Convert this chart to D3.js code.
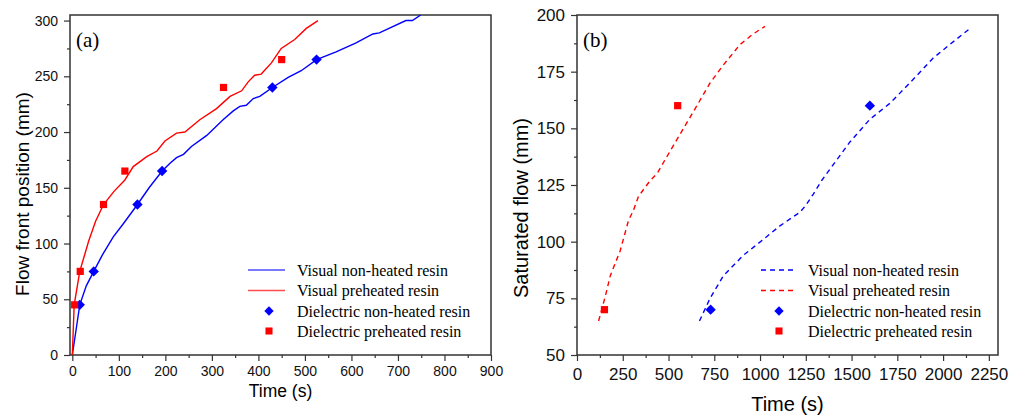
<!DOCTYPE html>
<html>
<head>
<meta charset="utf-8">
<script src="https://cdn.jsdelivr.net/npm/d3@7"></script>
<style>
  body { margin: 0; background: #fff; }
  svg { display: block; }
  .tick text { fill: #111; }
</style>
</head>
<body>
<div id="chart"></div>
<script>
// ---- panel (a): flow front position vs time ----
const visualNonHeatedA = [[0,0],[16,45],[30,62],[46,75],[65,90],[88,106],[110,118],[140,135],[165,150],[193,165],[210,172],[224,177],[239,180],[256,187],[289,197],[324,211],[346,219],[360,223],[374,224],[389,230],[403,232],[430,240],[464,249],[492,255],[525,265],[567,272],[610,280],[646,288],[660,289],[717,300],[731,300],[749,305]];
const visualPreheatedA = [[0,0],[4,45],[16,75],[35,102],[50,120],[67,135],[90,147],[113,157],[131,169],[160,178],[182,183],[199,192],[224,199],[242,200],[274,211],[310,221],[339,232],[364,237],[378,245],[392,251],[406,252],[428,262],[449,275],[478,283],[503,293],[528,300]];
const dielectricNonHeatedA = [[16,45],[46,75],[140,135],[193,165],[430,240],[525,265]];
const dielectricPreheatedA = [[5,45],[17,75],[67,135],[113,165],[325,240],[450,265]];
const xTicksA = d3.range(0, 901, 100);
const yTicksA = d3.range(0, 301, 50);

// ---- panel (b): saturated flow vs time ----
const visualNonHeatedB = [[669,65],[727,75],[800,85],[909,94],[1018,101],[1109,107],[1218,113],[1250,116],[1291,121],[1337,127],[1382,132],[1491,144],[1600,154],[1709,161],[1818,170],[1946,181],[2037,187],[2146,194]];
const visualPreheatedB = [[118,65],[155,76],[182,85],[236,96],[280,109],[309,114],[336,120],[400,127],[437,130],[509,140],[582,150],[655,160],[727,170],[800,178],[891,187],[960,191.5],[1027,195]];
const dielectricNonHeatedB = [[730,70],[1600,160]];
const dielectricPreheatedB = [[150,70],[550,160]];
const xTicksB = d3.range(0, 2251, 250);
const yTicksB = d3.range(50, 201, 25);

const legendLabels = ["Visual non-heated resin", "Visual preheated resin", "Dielectric non-heated resin", "Dielectric preheated resin"];

const BLUE = "#0000ff", RED = "#ff0000", AXIS = "#333";

const svg = d3.select("#chart").append("svg")
  .attr("width", 1019)
  .attr("height", 417);

function drawPanel(p) {
  const x = d3.scaleLinear().domain(p.xDomain).range([p.left, p.right]);
  const y = d3.scaleLinear().domain(p.yDomain).range([p.bottom, p.top]);
  const g = svg.append("g");

  // minor ticks
  g.append("g")
    .attr("transform", `translate(0,${p.bottom})`)
    .call(d3.axisBottom(x).tickValues(p.xMinor).tickSize(3).tickFormat(""))
    .call(a => a.select(".domain").remove())
    .selectAll("line").attr("stroke", AXIS).attr("stroke-width", 1.2);
  g.append("g")
    .attr("transform", `translate(${p.left},0)`)
    .call(d3.axisLeft(y).tickValues(p.yMinor).tickSize(3).tickFormat(""))
    .call(a => a.select(".domain").remove())
    .selectAll("line").attr("stroke", AXIS).attr("stroke-width", 1.2);

  // major ticks + labels
  const xa = g.append("g")
    .attr("transform", `translate(0,${p.bottom})`)
    .call(d3.axisBottom(x).tickValues(p.xTicks).tickSize(6).tickPadding(p.xPad).tickFormat(d3.format("d")))
    .call(a => a.select(".domain").remove());
  xa.selectAll("line").attr("stroke", AXIS).attr("stroke-width", 1.2);
  xa.selectAll("text").attr("font-family", "'Liberation Sans', Arial, sans-serif").attr("font-size", p.tickFont);

  const ya = g.append("g")
    .attr("transform", `translate(${p.left},0)`)
    .call(d3.axisLeft(y).tickValues(p.yTicks).tickSize(6).tickPadding(p.yPad).tickFormat(d3.format("d")))
    .call(a => a.select(".domain").remove());
  ya.selectAll("line").attr("stroke", AXIS).attr("stroke-width", 1.2);
  ya.selectAll("text").attr("font-family", "'Liberation Sans', Arial, sans-serif").attr("font-size", p.tickFont);

  // frame
  g.append("rect")
    .attr("x", p.left).attr("y", p.top)
    .attr("width", p.right - p.left).attr("height", p.bottom - p.top)
    .attr("fill", "none").attr("stroke", AXIS).attr("stroke-width", 1.5);

  // axis titles
  g.append("text")
    .attr("x", (p.left + p.right) / 2).attr("y", p.xTitleY)
    .attr("text-anchor", "middle")
    .attr("font-family", "'Liberation Sans', Arial, sans-serif")
    .attr("font-size", p.xTitleFont)
    .text("Time (s)");
  g.append("text")
    .attr("transform", `translate(${p.yTitleX},${p.yTitleCY}) rotate(-90)`)
    .attr("text-anchor", "middle")
    .attr("font-family", "'Liberation Sans', Arial, sans-serif")
    .attr("font-size", p.yTitleFont)
    .text(p.yTitle);

  // panel tag
  g.append("text")
    .attr("x", p.left + 6).attr("y", 47)
    .attr("font-family", "'Liberation Serif', 'Times New Roman', serif")
    .attr("font-size", 21)
    .text(p.tag);

  // curves
  const clipId = "clip" + p.tag.replace(/\W/g, "");
  g.append("clipPath").attr("id", clipId)
    .append("rect")
    .attr("x", p.left).attr("y", p.top)
    .attr("width", p.right - p.left).attr("height", p.bottom - p.top);

  const line = d3.line().x(d => x(d[0])).y(d => y(d[1]));
  const curves = [[p.blueLine, BLUE], [p.redLine, RED]];
  curves.forEach(([data, color]) => {
    g.append("path")
      .datum(data)
      .attr("clip-path", `url(#${clipId})`)
      .attr("fill", "none")
      .attr("stroke", color)
      .attr("stroke-width", 1.4)
      .attr("stroke-dasharray", p.dash)
      .attr("d", line);
  });

  // markers
  const diamond = d3.symbol().type(d3.symbolSquare).size(54);
  const square = d3.symbol().type(d3.symbolSquare).size(52);
  g.selectAll(".dia").data(p.blueDots).join("path")
    .attr("transform", d => `translate(${x(d[0])},${y(d[1])}) rotate(45)`)
    .attr("d", diamond).attr("fill", BLUE);
  g.selectAll(".sq").data(p.redDots).join("path")
    .attr("transform", d => `translate(${x(d[0])},${y(d[1])})`)
    .attr("d", square).attr("fill", RED);

  // legend
  const lg = g.append("g");
  const rows = [270, 290.5, 311, 331];
  legendLabels.forEach((label, i) => {
    const ry = rows[i];
    if (i < 2) {
      lg.append("line")
        .attr("x1", p.legX1).attr("x2", p.legX2)
        .attr("y1", ry).attr("y2", ry)
        .attr("stroke", i === 0 ? BLUE : RED)
        .attr("stroke-opacity", p.dash ? 1 : 0.7)
        .attr("stroke-width", 1.6)
        .attr("stroke-dasharray", p.dash);
    } else if (i === 2) {
      lg.append("path")
        .attr("transform", `translate(${p.legMark},${ry}) rotate(45)`)
        .attr("d", d3.symbol().type(d3.symbolSquare).size(44)).attr("fill", BLUE);
    } else {
      lg.append("path")
        .attr("transform", `translate(${p.legMark},${ry})`)
        .attr("d", d3.symbol().type(d3.symbolSquare).size(50)).attr("fill", RED);
    }
    lg.append("text")
      .attr("x", p.legText).attr("y", ry + 5.5)
      .attr("font-family", "'Liberation Serif', 'Times New Roman', serif")
      .attr("font-size", 16)
      .text(label);
  });
}

drawPanel({
  tag: "(a)",
  left: 70, right: 491, top: 15, bottom: 355,
  xDomain: [-5, 900], yDomain: [0, 305],
  xTicks: xTicksA, yTicks: yTicksA,
  xMinor: d3.range(50, 900, 100), yMinor: d3.range(25, 301, 50),
  tickFont: 14, xPad: 5, yPad: 6,
  xTitleY: 397, xTitleFont: 17.5,
  yTitle: "Flow front position (mm)", yTitleX: 29, yTitleCY: 194, yTitleFont: 19,
  blueLine: visualNonHeatedA, redLine: visualPreheatedA,
  blueDots: dielectricNonHeatedA, redDots: dielectricPreheatedA,
  dash: null,
  legX1: 248, legX2: 285, legMark: 269, legText: 297
});

drawPanel({
  tag: "(b)",
  left: 577, right: 998, top: 15, bottom: 355,
  xDomain: [0, 2300], yDomain: [50, 200],
  xTicks: xTicksB, yTicks: yTicksB,
  xMinor: d3.range(125, 2300, 250), yMinor: d3.range(62.5, 200, 25),
  tickFont: 17, xPad: 7, yPad: 6,
  xTitleY: 411, xTitleFont: 20,
  yTitle: "Saturated flow (mm)", yTitleX: 528, yTitleCY: 208, yTitleFont: 20,
  blueLine: visualNonHeatedB, redLine: visualPreheatedB,
  blueDots: dielectricNonHeatedB, redDots: dielectricPreheatedB,
  dash: "5,4",
  legX1: 761, legX2: 797, legMark: 779, legText: 808
});
</script>
</body>
</html>
